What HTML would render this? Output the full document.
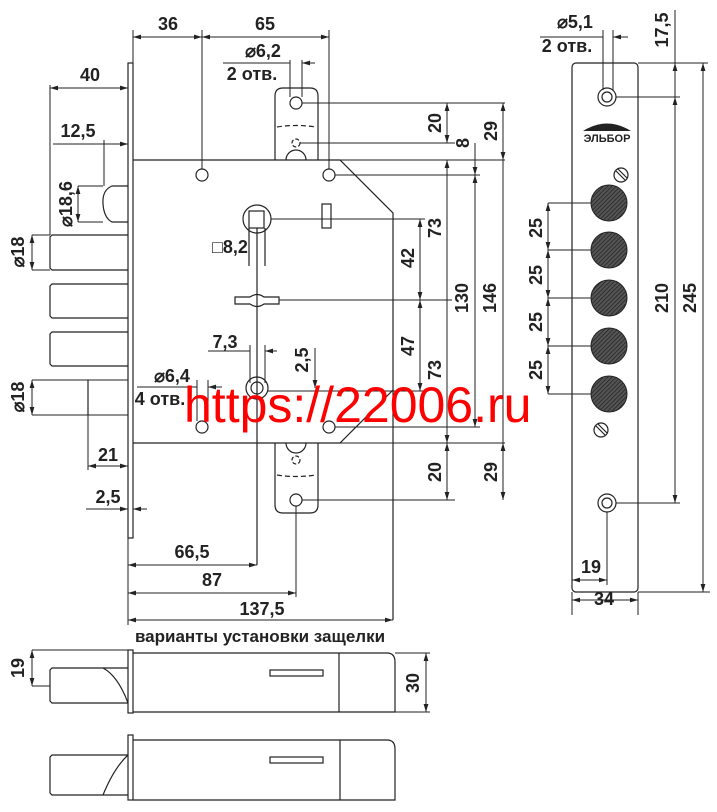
<!DOCTYPE html>
<html><head><meta charset="utf-8"><style>
html,body{margin:0;padding:0;background:#fff}
svg{display:block}
text{font-family:"Liberation Sans",Arial,sans-serif;font-weight:bold;font-size:18px;fill:#222}
.s{fill:none;stroke:#222;stroke-width:1.2}
.t{fill:none;stroke:#222;stroke-width:1}
</style></head><body>
<svg width="717" height="812" viewBox="0 0 717 812" xmlns="http://www.w3.org/2000/svg">
<defs>
<marker id="a" viewBox="0 0 10 6" refX="10" refY="3" markerWidth="8" markerHeight="5" orient="auto-start-reverse"><path d="M0,0 L10,3 L0,6z" fill="#222"/></marker>
<pattern id="h" width="3" height="3" patternUnits="userSpaceOnUse" patternTransform="rotate(45)"><rect width="3" height="3" fill="#555"/><line x1="0" y1="0" x2="0" y2="3" stroke="#222" stroke-width="1.5"/></pattern>
</defs>
<g class="s">
<!-- faceplate -->
<rect x="128" y="63" width="5" height="475"/>
<!-- body -->
<path d="M133,160 L340,160 L393,213 L393,620 M133,443 L340,443 L393,390"/>
<!-- top tab -->
<path d="M275,160 L275,96 Q275,88 283,88 L310,88 Q318,88 318,96 L318,160"/>
<circle cx="296" cy="103" r="6"/>
<path d="M277,127 Q296,124 316,127" stroke-dasharray="5,3"/>
<circle cx="296" cy="143" r="4" stroke-dasharray="4,2"/>
<path d="M286,160 A10,10 0 0 1 306,160"/>
<!-- bottom tab -->
<path d="M275,443 L275,505 Q275,513 283,513 L310,513 Q318,513 318,505 L318,443"/>
<circle cx="296" cy="500" r="6"/>
<path d="M277,475 Q296,478 316,475" stroke-dasharray="5,3"/>
<circle cx="296" cy="460" r="4" stroke-dasharray="4,2"/>
<path d="M286,443 A10,10 0 0 0 306,443"/>
<!-- holes -->
<circle cx="202" cy="175" r="6"/><circle cx="329" cy="175" r="6"/>
<circle cx="202" cy="427" r="6"/><circle cx="329" cy="427" r="6"/>
<!-- follower -->
<circle cx="257" cy="219" r="14"/>
<rect x="249" y="211" width="15" height="17"/>
<path d="M249,228 L249,266 M265,228 L265,266 M257,228 L257,565"/>
<rect x="322" y="204" width="9" height="24"/>
<path d="M235,297 L250,297 Q257,292 264,297 L279,297 L279,304 L264,304 Q257,309 250,304 L235,304 Z"/>
<circle cx="257" cy="388" r="11"/><circle cx="257" cy="388" r="6"/>
<!-- bolts -->
<path d="M128,186 L112,186 Q102,190 103,204 Q104,218 112,222 L128,222"/>
<path d="M128,235 L52,235 L50,237 L50,268 L52,270 L128,270"/>
<path d="M128,284 L52,284 L50,286 L50,316 L52,318 L128,318"/>
<path d="M128,332 L52,332 L50,334 L50,364 L52,366 L128,366"/>
<path d="M88,380 L88,415"/>
<!-- right plate -->
<rect x="572" y="63" width="66" height="529" rx="4"/>
<circle cx="607" cy="97" r="9"/><circle cx="607" cy="97" r="5"/>
<circle cx="607" cy="503" r="9"/><circle cx="607" cy="503" r="5"/>
<circle cx="621" cy="175" r="7"/><path d="M616,171 L625,180 M618,169 L627,178"/>
<circle cx="601" cy="430" r="7"/><path d="M596,426 L605,435 M598,424 L607,433"/>
</g>
<g fill="url(#h)" stroke="#222" stroke-width="1">
<circle cx="609" cy="203" r="18"/><circle cx="609" cy="250" r="18"/><circle cx="609" cy="298" r="18"/><circle cx="609" cy="346" r="18"/><circle cx="609" cy="394" r="18"/>
</g>
<path d="M583,131 Q607,116 631,131 Z" fill="#222"/>
<text x="607" y="142" text-anchor="middle" style="font-size:11px;font-weight:900" fill="#111">ЭЛЬБОР</text>

<!-- dimension lines -->
<g class="t">
<path d="M133,30 L133,63 M202,30 L202,169 M329,30 L329,169"/>
<path d="M290,60 L290,97 M302,60 L302,97 M223,63 L290,63"/>
<path d="M50,85 L50,235 M104,140 L104,186 M53,144 L104,144"/>
<path d="M32,380 L128,380 M32,415 L128,415 M32,235 L50,235 M32,270 L50,270 M78,186 L103,186 M78,222 L103,222"/>
<path d="M88,415 L88,470 M86,509 L128,509"/>
<path d="M128,538 L128,625 M296,506 L296,597"/>
<path d="M197,380 L197,421 M208,380 L208,421 M137,387 L197,387"/>
<path d="M250,345 L250,383 M265,345 L265,383 M208,351 L250,351"/>
<path d="M268,391 L425,391 M315,348 L315,388"/>
<path d="M302,103 L505,103 M300,143 L455,143 M340,160 L505,160 M335,175 L480,175 M271,219 L425,219 M279,300 L452,300 M335,427 L480,427 M340,443 L505,443 M302,500 L455,500"/>
<path d="M447,103 L447,143 M475,143 L475,175 M503,103 L503,500 M420,219 L420,391 M447,160 L447,443 M475,175 L475,427 M447,443 L447,500"/>
<path d="M548,203 L548,394 M548,203 L591,203 M548,250 L591,250 M548,298 L591,298 M548,346 L591,346 M548,394 L591,394"/>
<path d="M603,30 L603,90 M613,30 L613,90 M540,37 L603,37"/>
<path d="M638,63 L708,63 M616,97 L680,97 M616,503 L680,503 M638,592 L710,592 M675,10 L675,503 M703,63 L703,592"/>
<path d="M572,592 L572,615 M607,512 L607,585 M638,592 L638,615"/>
<path d="M32,650 L128,650 M32,686 L50,686 M395,653 L430,653 M395,712 L430,712"/>
</g>
<g class="t" marker-start="url(#a)" marker-end="url(#a)">
<line x1="133" y1="37" x2="202" y2="37"/><line x1="202" y1="37" x2="329" y2="37"/>
<line x1="50" y1="88" x2="128" y2="88"/>
<line x1="32" y1="235" x2="32" y2="270"/><line x1="32" y1="380" x2="32" y2="415"/><line x1="78" y1="186" x2="78" y2="222"/>
<line x1="88" y1="466" x2="128" y2="466"/>
<line x1="128" y1="565" x2="257" y2="565"/><line x1="128" y1="593" x2="296" y2="593"/><line x1="128" y1="620" x2="393" y2="620"/>
<line x1="447" y1="103" x2="447" y2="143"/><line x1="503" y1="103" x2="503" y2="160"/>
<line x1="447" y1="160" x2="447" y2="443"/><line x1="475" y1="175" x2="475" y2="427"/>
<line x1="420" y1="219" x2="420" y2="300"/><line x1="420" y1="300" x2="420" y2="391"/>
<line x1="447" y1="443" x2="447" y2="500"/><line x1="503" y1="443" x2="503" y2="500"/>
<line x1="548" y1="203" x2="548" y2="250"/><line x1="548" y1="250" x2="548" y2="298"/><line x1="548" y1="298" x2="548" y2="346"/><line x1="548" y1="346" x2="548" y2="394"/>
<line x1="675" y1="63" x2="675" y2="503"/><line x1="703" y1="63" x2="703" y2="592"/>
<line x1="572" y1="580" x2="607" y2="580"/><line x1="572" y1="600" x2="638" y2="600"/>
<line x1="32" y1="650" x2="32" y2="686"/><line x1="426" y1="653" x2="426" y2="712"/>
</g>
<g class="t" marker-end="url(#a)">
<line x1="104" y1="144" x2="128" y2="144"/><line x1="147" y1="509" x2="133" y2="509"/><line x1="86" y1="509" x2="128" y2="509"/>
<line x1="675" y1="110" x2="675" y2="97"/>
<line x1="475" y1="160" x2="475" y2="175"/>
<line x1="315" y1="370" x2="315" y2="388"/>
<line x1="277" y1="351" x2="265" y2="351"/><line x1="222" y1="387" x2="208" y2="387"/><line x1="315" y1="63" x2="302" y2="63"/><line x1="628" y1="37" x2="613" y2="37"/>
</g>

<!-- labels -->
<text x="168" y="30" text-anchor="middle">36</text>
<text x="265" y="30" text-anchor="middle">65</text>
<text x="263" y="57" text-anchor="middle">⌀6,2</text>
<text x="252" y="80" text-anchor="middle">2 отв.</text>
<text x="90" y="81" text-anchor="middle">40</text>
<text x="78" y="137" text-anchor="middle">12,5</text>
<text transform="translate(72,204) rotate(-90)" text-anchor="middle">⌀18,6</text>
<text transform="translate(24,252) rotate(-90)" text-anchor="middle">⌀18</text>
<text transform="translate(24,397) rotate(-90)" text-anchor="middle">⌀18</text>
<text x="108" y="461" text-anchor="middle">21</text>
<text x="108" y="503" text-anchor="middle">2,5</text>
<text x="192" y="558" text-anchor="middle">66,5</text>
<text x="212" y="586" text-anchor="middle">87</text>
<text x="262" y="615" text-anchor="middle">137,5</text>
<text x="230" y="253" text-anchor="middle"><tspan style="font-weight:normal">□</tspan>8,2</text>
<text x="225" y="348" text-anchor="middle">7,3</text>
<text x="172" y="382" text-anchor="middle">⌀6,4</text>
<text x="160" y="405" text-anchor="middle">4 отв.</text>
<text transform="translate(308,360) rotate(-90)" text-anchor="middle">2,5</text>
<text transform="translate(441,123) rotate(-90)" text-anchor="middle">20</text>
<text transform="translate(469,143) rotate(-90)" text-anchor="middle">8</text>
<text transform="translate(497,131) rotate(-90)" text-anchor="middle">29</text>
<text transform="translate(441,228) rotate(-90)" text-anchor="middle">73</text>
<text transform="translate(414,258) rotate(-90)" text-anchor="middle">42</text>
<text transform="translate(468,298) rotate(-90)" text-anchor="middle">130</text>
<text transform="translate(496,298) rotate(-90)" text-anchor="middle">146</text>
<text transform="translate(414,346) rotate(-90)" text-anchor="middle">47</text>
<text transform="translate(441,370) rotate(-90)" text-anchor="middle">73</text>
<text transform="translate(441,472) rotate(-90)" text-anchor="middle">20</text>
<text transform="translate(497,472) rotate(-90)" text-anchor="middle">29</text>
<text x="575" y="28" text-anchor="middle">⌀5,1</text>
<text x="567" y="52" text-anchor="middle">2 отв.</text>
<text transform="translate(668,30) rotate(-90)" text-anchor="middle">17,5</text>
<text transform="translate(542,228) rotate(-90)" text-anchor="middle">25</text>
<text transform="translate(542,275) rotate(-90)" text-anchor="middle">25</text>
<text transform="translate(542,322) rotate(-90)" text-anchor="middle">25</text>
<text transform="translate(542,370) rotate(-90)" text-anchor="middle">25</text>
<text transform="translate(668,298) rotate(-90)" text-anchor="middle">210</text>
<text transform="translate(696,298) rotate(-90)" text-anchor="middle">245</text>
<text x="591" y="573" text-anchor="middle">19</text>
<text x="604" y="605" text-anchor="middle">34</text>
<text x="260" y="642" text-anchor="middle" style="font-size:17px">варианты установки защелки</text>
<text transform="translate(24,668) rotate(-90)" text-anchor="middle">19</text>
<text transform="translate(419,683) rotate(-90)" text-anchor="middle">30</text>

<!-- latch variants -->
<g class="s">
<rect x="128" y="650" width="5" height="63"/>
<path d="M133,653 L387,653 Q395,653 395,662 L395,712 L133,712 M339,653 L339,712"/>
<rect x="270" y="670" width="53" height="6"/>
<path d="M128,668 L52,668 L50,670 L50,701 L52,703 L128,703 M103,668 Q118,676 128,703"/>
<rect x="128" y="735" width="5" height="65"/>
<path d="M133,740 L387,740 Q395,740 395,749 L395,800 L133,800 M340,740 L340,800"/>
<rect x="270" y="757" width="53" height="6"/>
<path d="M128,755 L52,755 L50,757 L50,793 L52,795 L128,795 M103,795 Q114,768 128,755"/>
</g>

<text x="184" y="422" style="font-family:'Liberation Sans',Arial,sans-serif;font-weight:normal;font-size:50px;fill:#ff0000">https://22006.ru</text>
</svg>
</body></html>
